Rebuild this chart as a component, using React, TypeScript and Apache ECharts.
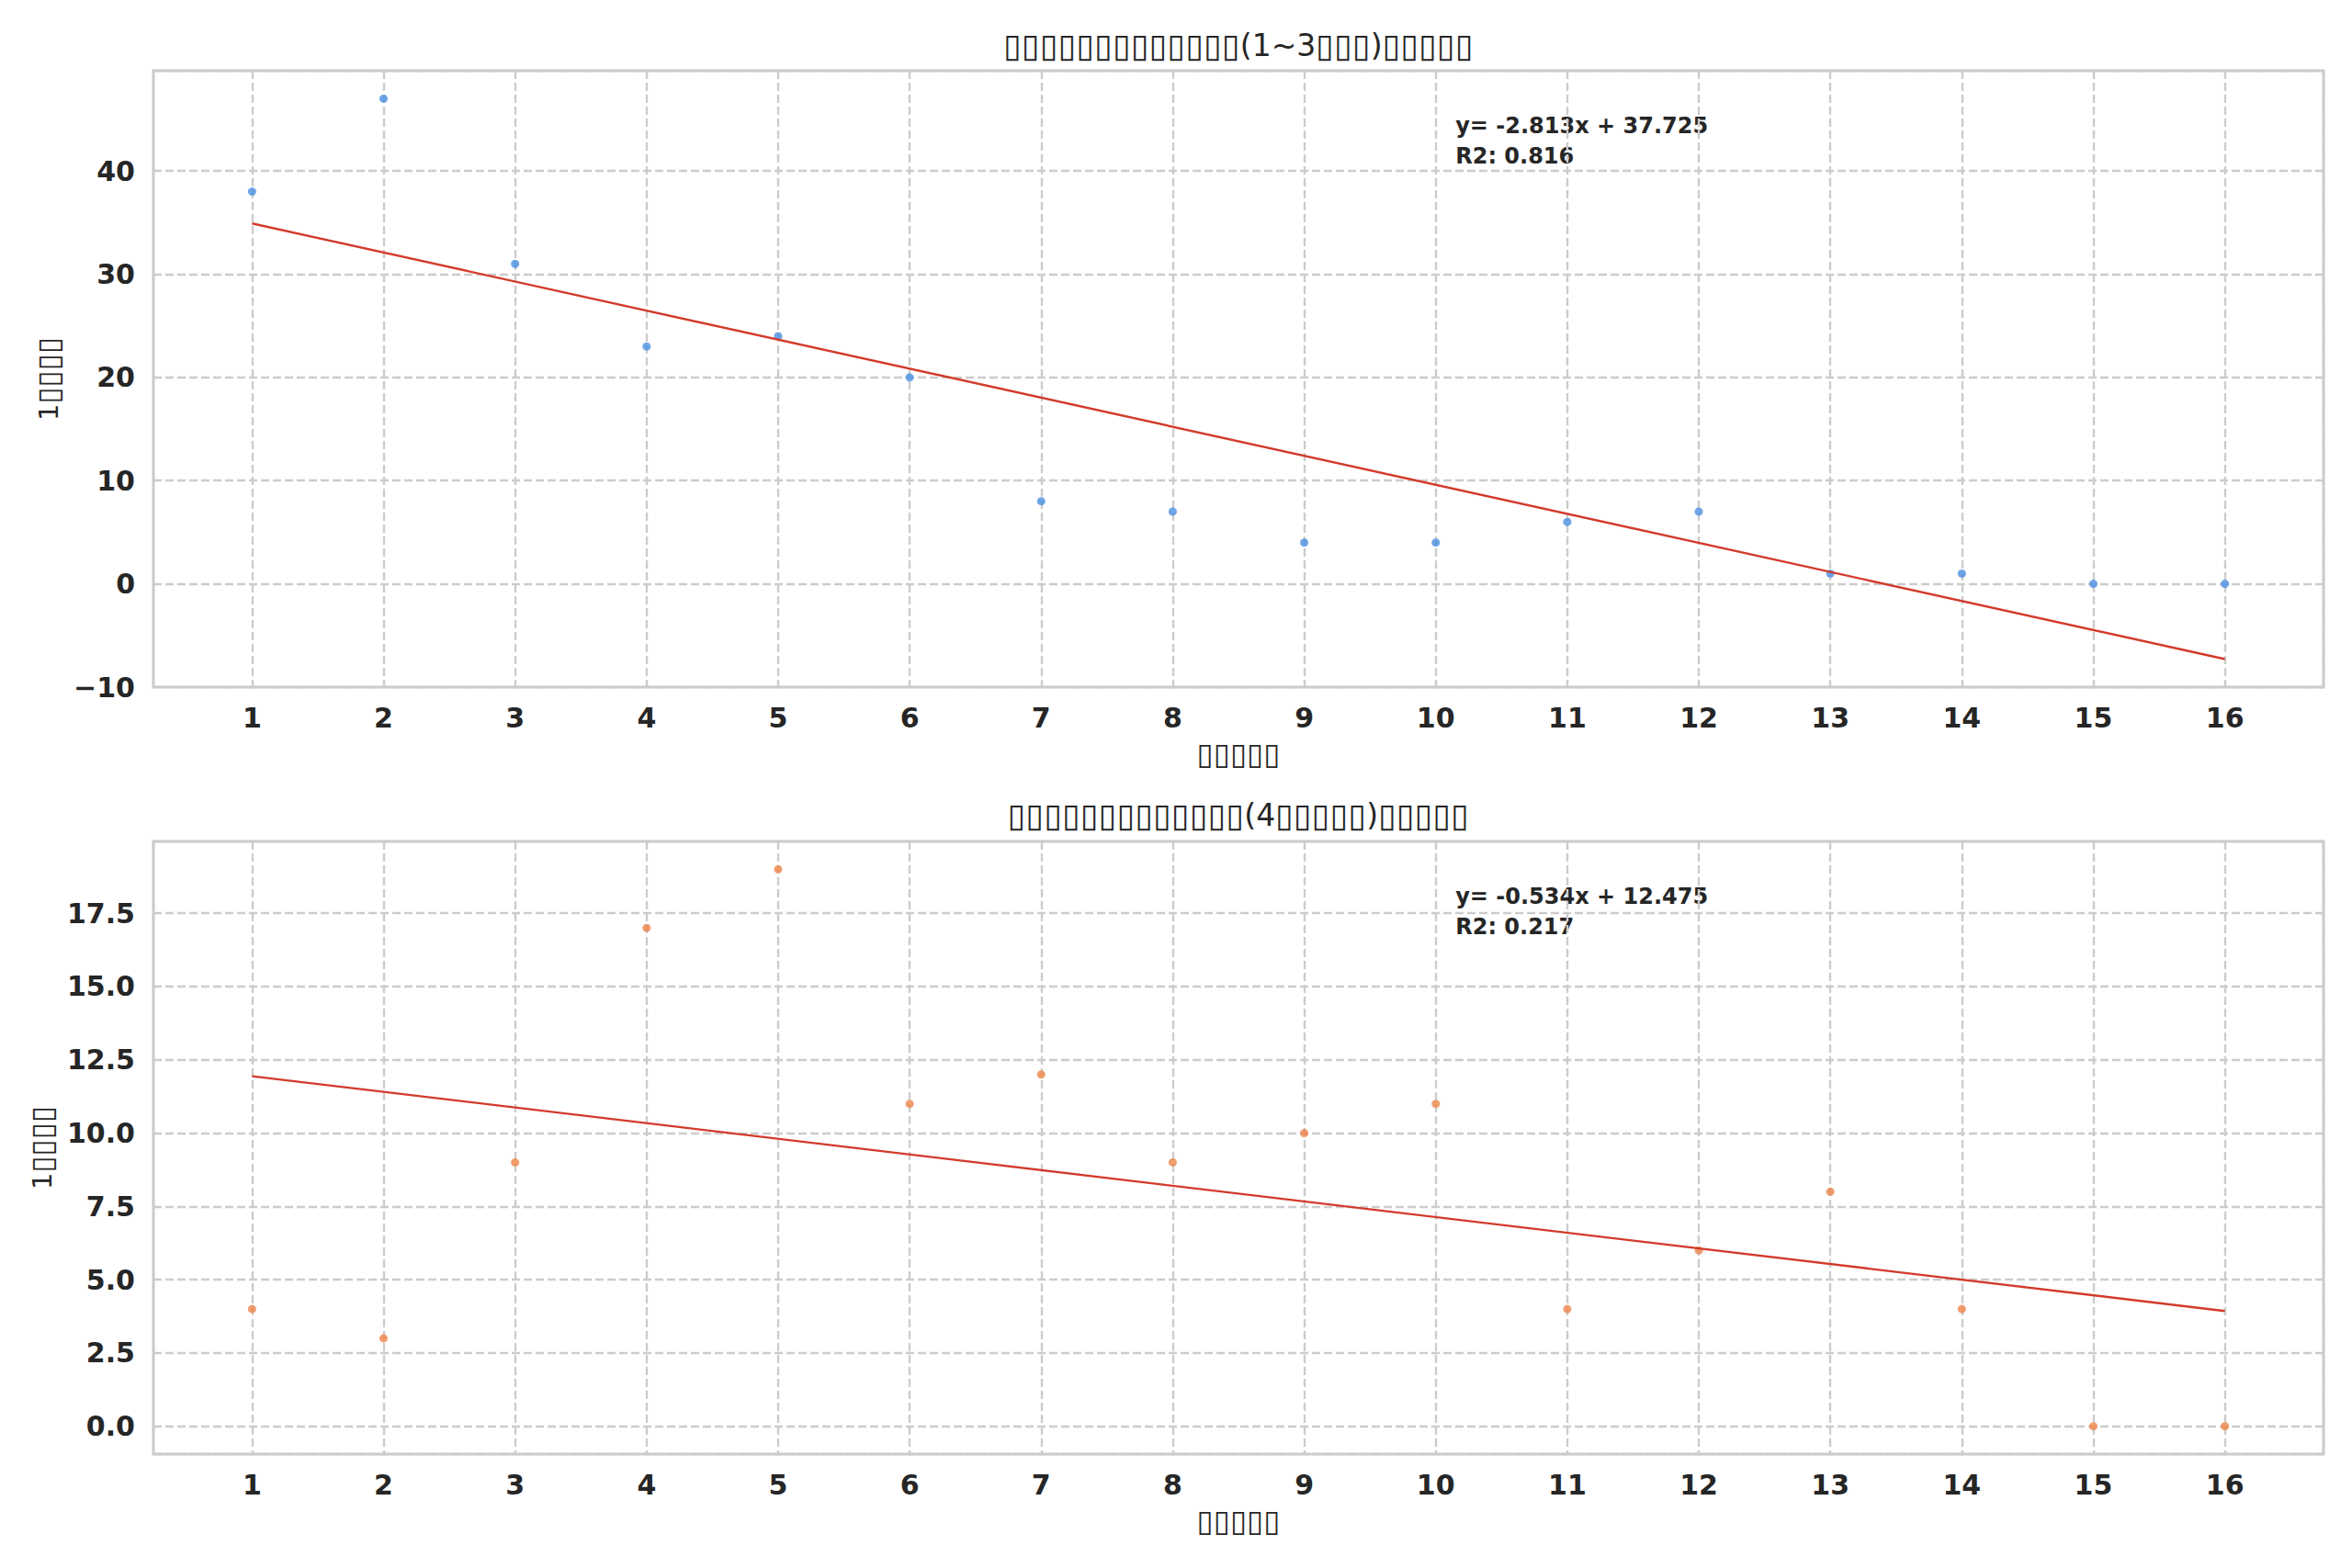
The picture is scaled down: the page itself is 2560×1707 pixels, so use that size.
import React, { useEffect, useRef } from "react";
import * as echarts from "echarts";

// ---- data ----
const weeks = [1, 2, 3, 4, 5, 6, 7, 8, 9, 10, 11, 12, 13, 14, 15, 16];
const lowLevelCounts = [38, 47, 31, 23, 24, 20, 8, 7, 4, 4, 6, 7, 1, 1, 0, 0];
const highLevelCounts = [4, 3, 9, 17, 19, 11, 12, 9, 10, 11, 4, 6, 8, 4, 0, 0];
const fitSlopes = [-2.813, -0.534];
const fitIntercepts = [37.725, 12.475];
const fitR2 = [0.816, 0.217];
const topYTicks = [-10, 0, 10, 20, 30, 40];
const bottomYTicks = [0, 2.5, 5, 7.5, 10, 12.5, 15, 17.5];
const panelTitles = [
  "▯▯▯▯▯▯▯▯▯▯▯▯▯(1~3▯▯▯)▯▯▯▯▯",
  "▯▯▯▯▯▯▯▯▯▯▯▯▯(4▯▯▯▯▯)▯▯▯▯▯",
];
const xAxisTitle = "▯▯▯▯▯";
const yAxisTitle = "1▯▯▯▯";

const W = 2560;
const H = 1707;
const FONT = "DejaVu Sans";
const TEXT = "#262626";
const GRIDC = "#cccccc";
const grids = [
  { left: 167, top: 77, width: 2362, height: 671 },
  { left: 167, top: 916, width: 2362, height: 667 },
];
const yRanges = [
  [-10, 49.71],
  [-0.95, 19.95],
];
const pointColors = ["#4a90e2", "#ee854a"];
const lineColor = "#d33a2b";

function near(list: number[], v: number) {
  return list.some((t) => Math.abs(t - v) < 1e-6);
}

// wrap runs of box glyphs in a rich-text style so they can be sized separately
function richBoxes(s: string) {
  return s.replace(/(▯+)/g, "{b|$1}");
}

export default function App() {
  const ref = useRef<HTMLDivElement>(null);
  useEffect(() => {
    if (!ref.current) return;
    const chart = echarts.init(ref.current, undefined, { renderer: "svg" });
    const splitLine = {
      show: true,
      lineStyle: { color: GRIDC, width: 2.4, type: [9, 4] },
    };
    const labelBase = {
      color: TEXT,
      fontFamily: FONT,
      fontWeight: "bold" as const,
      fontSize: 30,
    };
    const nameStyle = {
      fontSize: 29,
      color: TEXT,
      fontFamily: FONT,
      rich: { b: { fontSize: 33, color: TEXT, fontFamily: FONT } },
    };
    const xAxes = [0, 1].map((g) => ({
      type: "value",
      gridIndex: g,
      min: 0.25,
      max: 16.75,
      splitNumber: 16,
      minInterval: 1,
      maxInterval: 1,
      axisLine: { show: false },
      axisTick: { show: false },
      axisLabel: {
        ...labelBase,
        margin: 18,
        formatter: (v: number) => (near(weeks, v) ? String(v) : ""),
      },
      splitLine,
      name: richBoxes(xAxisTitle),
      nameLocation: "middle",
      nameGap: 56,
      nameTextStyle: nameStyle,
    }));
    const yAxes = [0, 1].map((g) => {
      const ticks = g === 0 ? topYTicks : bottomYTicks;
      const step = g === 0 ? 10 : 2.5;
      return {
        type: "value",
        gridIndex: g,
        min: yRanges[g][0],
        max: yRanges[g][1],
        splitNumber: 8,
        minInterval: step,
        maxInterval: step,
        axisLine: { show: false },
        axisTick: { show: false },
        axisLabel: {
          ...labelBase,
          margin: 20,
          formatter: (v: number) => {
            if (!near(ticks, v)) return "";
            const s = g === 0 ? String(Math.abs(v)) : Math.abs(v).toFixed(1);
            return v < 0 ? "\u2212" + s : s;
          },
        },
        splitLine,
        name: richBoxes(yAxisTitle),
        nameLocation: "middle",
        nameRotate: 90,
        nameGap: 97,
        nameTextStyle: nameStyle,
      };
    });
    const datasets = [lowLevelCounts, highLevelCounts];
    const series: any[] = [];
    [0, 1].forEach((g) => {
      series.push({
        type: "scatter",
        xAxisIndex: g,
        yAxisIndex: g,
        symbolSize: 9,
        itemStyle: { color: pointColors[g] },
        data: weeks.map((w, i) => [w, datasets[g][i]]),
      });
      const x0 = weeks[0];
      const x1 = weeks[weeks.length - 1];
      series.push({
        type: "line",
        xAxisIndex: g,
        yAxisIndex: g,
        showSymbol: false,
        symbol: "none",
        silent: true,
        lineStyle: { color: lineColor, width: 2.4 },
        data: [
          [x0, fitSlopes[g] * x0 + fitIntercepts[g]],
          [x1, fitSlopes[g] * x1 + fitIntercepts[g]],
        ],
      });
    });
    const graphics: any[] = [];
    [0, 1].forEach((g) => {
      const gr = grids[g];
      graphics.push({
        type: "text",
        x: gr.left + gr.width / 2,
        y: g === 0 ? 49 : 887,
        style: {
          text: richBoxes(panelTitles[g]),
          fill: TEXT,
          fontSize: 33,
          fontFamily: FONT,
          align: "center",
          verticalAlign: "middle",
          rich: { b: { fontSize: 36, fontFamily: FONT, fill: TEXT } },
        },
      });
      const slope = fitSlopes[g].toFixed(3);
      const inter = fitIntercepts[g].toFixed(3);
      graphics.push({
        type: "text",
        x: gr.left + gr.width * 0.6,
        y: gr.top + 43,
        style: {
          text: `y= ${slope}x + ${inter}\nR2: ${fitR2[g].toFixed(3)}`,
          fill: TEXT,
          font: `bold 24px "${FONT}"`,
          lineHeight: 33,
          align: "left",
          verticalAlign: "top",
        },
      });
    });
    chart.setOption({
      animation: false,
      backgroundColor: "#ffffff",
      grid: grids.map((gr) => ({
        ...gr,
        show: true,
        borderColor: GRIDC,
        borderWidth: 3,
        backgroundColor: "#ffffff",
        containLabel: false,
      })),
      xAxis: xAxes,
      yAxis: yAxes,
      series,
      graphic: graphics,
    });
    return () => chart.dispose();
  }, []);
  return (
    <div
      ref={ref}
      style={{ position: "absolute", left: 0, top: 0, width: W, height: H }}
    />
  );
}
